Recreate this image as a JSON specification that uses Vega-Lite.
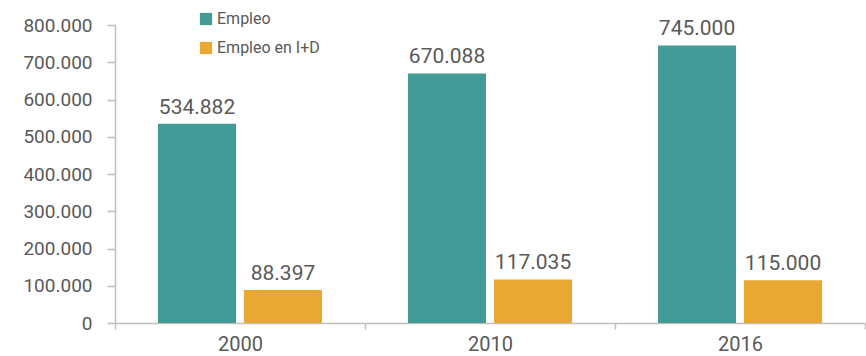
{
  "$schema": "https://vega.github.io/schema/vega-lite/v6.json",
  "width": 750,
  "height": 298,
  "autosize": {"type": "none"},
  "padding": {"left": 115, "top": 25, "right": 1, "bottom": 33},
  "background": "white",
  "config": {
    "locale": {"number": {"decimal": ",", "thousands": ".", "grouping": [3], "currency": ["", " €"]}},
    "font": "Roboto",
    "view": {"stroke": null}
  },
  "data": {
    "values": [
      {"year": "2000", "serie": "Empleo", "value": 534882},
      {"year": "2000", "serie": "Empleo en I+D", "value": 88397},
      {"year": "2010", "serie": "Empleo", "value": 670088},
      {"year": "2010", "serie": "Empleo en I+D", "value": 117035},
      {"year": "2016", "serie": "Empleo", "value": 745000},
      {"year": "2016", "serie": "Empleo en I+D", "value": 115000}
    ]
  },
  "encoding": {
    "x": {
      "field": "year", "type": "nominal",
      "scale": {"paddingInner": 0, "paddingOuter": 0},
      "axis": {
        "title": null, "labelAngle": 0, "labelFontSize": 20, "labelColor": "#595959",
        "domainColor": "#BFBFBF", "domainWidth": 1.5, "tickColor": "#BFBFBF", "tickWidth": 1.5,
        "tickSize": 6, "tickBand": "extent", "labelPadding": 5
      }
    },
    "xOffset": {"field": "serie", "type": "nominal", "scale": {"paddingInner": 0.093, "paddingOuter": 0.5}},
    "y": {
      "field": "value", "type": "quantitative",
      "scale": {"domain": [0, 800000]},
      "axis": {
        "title": null, "tickCount": 8, "format": ",d", "grid": false,
        "labelFontSize": 19, "labelColor": "#595959",
        "domainColor": "#BFBFBF", "domainWidth": 1.5, "tickColor": "#BFBFBF", "tickWidth": 1.5,
        "tickSize": 8, "labelPadding": 15
      }
    }
  },
  "layer": [
    {
      "mark": {"type": "bar"},
      "encoding": {
        "color": {
          "field": "serie", "type": "nominal",
          "scale": {"domain": ["Empleo", "Empleo en I+D"], "range": ["#429B96", "#E8A831"]},
          "legend": {
            "title": null, "orient": "none", "legendX": 83, "legendY": -14,
            "symbolType": "square", "symbolSize": 150, "symbolStrokeWidth": 0,
            "labelFontSize": 16, "labelColor": "#595959", "labelOffset": 3, "rowPadding": 13
          }
        }
      }
    },
    {
      "mark": {"type": "text", "dy": -16, "fontSize": 21, "color": "#595959"},
      "encoding": {
        "text": {"field": "value", "type": "quantitative", "format": ",d"}
      }
    }
  ]
}
